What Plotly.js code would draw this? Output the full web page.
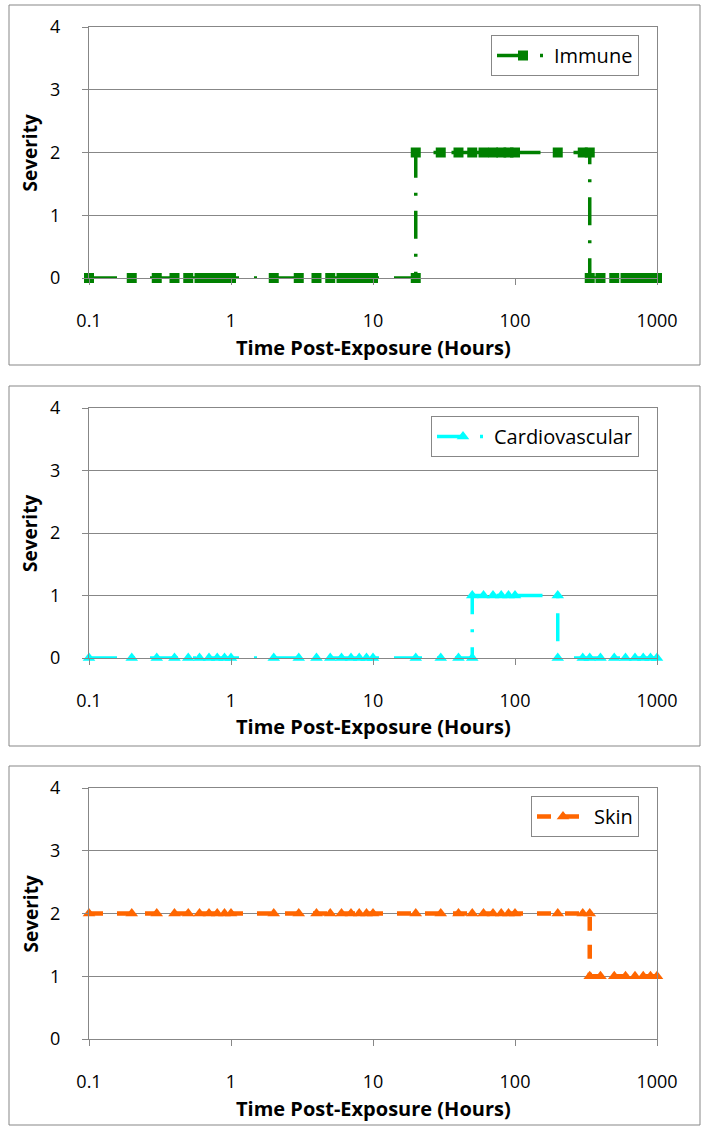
<!DOCTYPE html>
<html>
<head>
<meta charset="utf-8">
<script src="https://cdn.plot.ly/plotly-3.0.1.min.js"></script>
<style>
  html, body { margin: 0; padding: 0; background: #ffffff; }
  #chart { width: 704px; height: 1127px; }
</style>
</head>
<body>
<div id="chart"></div>
<script>
// Time post-exposure (hours) and severity for each organ system.
// Repeated times mark the instant where the severity steps up or down.
const immuneTime = [0.1, 0.2, 0.3, 0.4, 0.5, 0.6, 0.7, 0.8, 0.9, 1, 2, 3, 4, 5, 6, 7, 8, 9, 10,
  20, 20, 30, 40, 50, 60, 70, 80, 90, 100, 200, 300, 336, 336, 400, 500, 600, 700, 800, 900, 1000];
const immuneSeverity = [0, 0, 0, 0, 0, 0, 0, 0, 0, 0, 0, 0, 0, 0, 0, 0, 0, 0, 0,
  0, 2, 2, 2, 2, 2, 2, 2, 2, 2, 2, 2, 2, 0, 0, 0, 0, 0, 0, 0, 0];

const cardioTime = [0.1, 0.2, 0.3, 0.4, 0.5, 0.6, 0.7, 0.8, 0.9, 1, 2, 3, 4, 5, 6, 7, 8, 9, 10,
  20, 30, 40, 50, 50, 60, 70, 80, 90, 100, 200, 200, 300, 336, 400, 500, 600, 700, 800, 900, 1000];
const cardioSeverity = [0, 0, 0, 0, 0, 0, 0, 0, 0, 0, 0, 0, 0, 0, 0, 0, 0, 0, 0,
  0, 0, 0, 0, 1, 1, 1, 1, 1, 1, 1, 0, 0, 0, 0, 0, 0, 0, 0, 0, 0];

const skinTime = [0.1, 0.2, 0.3, 0.4, 0.5, 0.6, 0.7, 0.8, 0.9, 1, 2, 3, 4, 5, 6, 7, 8, 9, 10,
  20, 30, 40, 50, 60, 70, 80, 90, 100, 200, 300, 336, 336, 400, 500, 600, 700, 800, 900, 1000];
const skinSeverity = [2, 2, 2, 2, 2, 2, 2, 2, 2, 2, 2, 2, 2, 2, 2, 2, 2, 2, 2,
  2, 2, 2, 2, 2, 2, 2, 2, 2, 2, 2, 2, 1, 1, 1, 1, 1, 1, 1, 1];

const xTickVals = [0.1, 1, 10, 100, 1000];
const xTickText = ['0.1', '1', '10', '100', '1000'];
const yTickVals = [0, 1, 2, 3, 4];

const W = 704, H = 1127;
const FONT = '"Open Sans", "DejaVu Sans", sans-serif';
const GRID = '#878787';

// Pixel geometry of each chart block (frame and plot area edges).
const plotLeft = 89, plotRight = 657;
const blocks = [
  { frameTop: 5,   frameBottom: 365,  plotTop: 27,  plotBottom: 278 },
  { frameTop: 386, frameBottom: 746,  plotTop: 408, plotBottom: 658 },
  { frameTop: 766, frameBottom: 1125, plotTop: 788, plotBottom: 1039 }
];
const legendRight = 639;
const py = v => 1 - v / H;
const px = v => v / W;

const series = [
  { name: 'Immune', x: immuneTime, y: immuneSeverity, color: '#008000',
    symbol: 'square', size: 10, dash: '28px,15px,3px,15px', width: 3.5 },
  { name: 'Cardiovascular', x: cardioTime, y: cardioSeverity, color: '#00FFFF',
    symbol: 'triangle-up', size: 11, dash: '28px,15px,3px,15px', width: 3.5 },
  { name: 'Skin', x: skinTime, y: skinSeverity, color: '#FF6600',
    symbol: 'triangle-up', size: 11, dash: '14px,14px', width: 4.5 }
];

const data = [];
const layout = {
  width: W, height: H,
  margin: { l: 0, r: 0, t: 0, b: 0 },
  paper_bgcolor: '#ffffff',
  plot_bgcolor: '#ffffff',
  showlegend: true,
  font: { family: FONT, size: 18, color: '#000000' },
  shapes: [],
  annotations: []
};

series.forEach((s, i) => {
  const n = i === 0 ? '' : String(i + 1);
  const b = blocks[i];
  const legendKey = 'legend' + n;
  data.push({
    type: 'scatter', mode: 'lines+markers',
    name: s.name, x: s.x, y: s.y,
    xaxis: 'x' + n, yaxis: 'y' + n,
    legend: legendKey,
    showlegend: true,
    cliponaxis: false,
    line: { color: s.color, width: s.width, dash: s.dash },
    marker: { symbol: s.symbol, size: s.size, color: s.color, line: { width: 0 } },
    hoverinfo: 'x+y'
  });

  layout['xaxis' + n] = {
    type: 'log', range: [-1, 3],
    domain: [px(plotLeft), px(plotRight)],
    anchor: 'y' + n,
    tickmode: 'array', tickvals: xTickVals, ticktext: xTickText,
    ticks: 'outside', ticklen: 6, tickcolor: GRID, tickwidth: 1,
    ticklabelstandoff: 20,
    showgrid: false, zeroline: false,
    showline: true, linecolor: GRID, linewidth: 1, mirror: true,
    tickfont: { family: FONT, size: 18, color: '#000000' }
  };
  layout['yaxis' + n] = {
    range: [0, 4],
    domain: [py(b.plotBottom), py(b.plotTop)],
    anchor: 'x' + n,
    tickmode: 'array', tickvals: yTickVals,
    ticks: 'outside', ticklen: 6, tickcolor: GRID, tickwidth: 1,
    ticklabelstandoff: 18,
    showgrid: true, gridcolor: GRID, gridwidth: 1,
    zeroline: false,
    showline: true, linecolor: GRID, linewidth: 1, mirror: true,
    tickfont: { family: FONT, size: 18, color: '#000000' }
  };
  layout[legendKey] = {
    x: px(legendRight), xanchor: 'right',
    y: py(b.plotTop + 8), yanchor: 'top',
    bgcolor: '#ffffff', bordercolor: GRID, borderwidth: 1,
    font: { family: FONT, size: 20, color: '#000000' },
    itemwidth: 52
  };

  // chart frame
  layout.shapes.push({
    type: 'rect', xref: 'paper', yref: 'paper',
    x0: px(9), x1: px(700), y0: py(b.frameBottom), y1: py(b.frameTop),
    line: { color: GRID, width: 1 }, fillcolor: 'rgba(0,0,0,0)', layer: 'below'
  });

  // axis titles
  layout.annotations.push({
    xref: 'paper', yref: 'paper',
    x: px((plotLeft + plotRight) / 2), y: py(b.plotBottom + 69),
    xanchor: 'center', yanchor: 'middle', showarrow: false,
    text: '<b>Time Post-Exposure (Hours)</b>',
    font: { family: FONT, size: 20, color: '#000000' }
  });
  layout.annotations.push({
    xref: 'paper', yref: 'paper',
    x: px(30), y: py((b.plotTop + b.plotBottom) / 2),
    xanchor: 'center', yanchor: 'middle', showarrow: false, textangle: -90,
    text: '<b>Severity</b>',
    font: { family: FONT, size: 19, color: '#000000' }
  });
});

Plotly.newPlot('chart', data, layout, { displayModeBar: false, staticPlot: true });
</script>
</body>
</html>
